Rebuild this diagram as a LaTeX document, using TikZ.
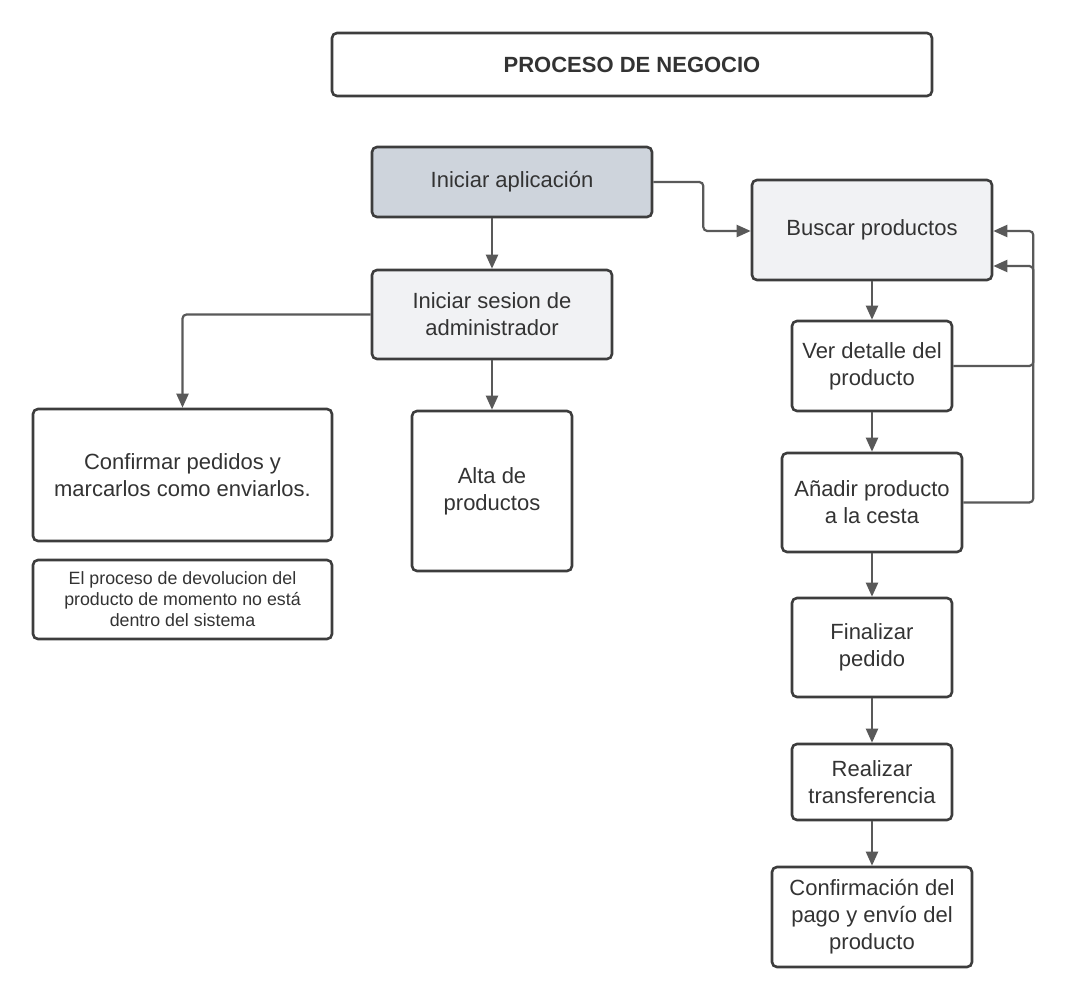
\documentclass[tikz,border=0pt]{standalone}
\usepackage{fontspec}
\setmainfont{Liberation Sans}
\usepackage{xcolor}
\usepackage{tikz}
\usetikzlibrary{calc, arrows.meta, positioning}

\definecolor{borde}{HTML}{3D3D3D}
\definecolor{linea}{HTML}{595959}
\definecolor{grisapp}{HTML}{CED4DC}
\definecolor{grisclaro}{HTML}{F1F2F4}
\definecolor{texto}{HTML}{333333}

\begin{document}
\begin{tikzpicture}[x=1pt, y=-1pt,
    caja/.style={draw=borde, line width=2.6pt, rounded corners=5pt, fill=white,
        align=center, text=texto, inner sep=2pt,
        font=\fontsize{22}{27}\selectfont},
    nota/.style={caja, font=\fontsize{17.8}{21}\selectfont},
    flecha/.style={draw=linea, line width=2.2pt, rounded corners=4pt,
        -{Triangle[length=14pt, width=12pt]}}]
    \useasboundingbox (0,0) rectangle (1074,1007);

    % 1. Titulo
    \node[caja, minimum width=600pt, minimum height=63pt,
        font=\fontsize{22}{26}\selectfont\bfseries] (titulo) at (632,64.5) {PROCESO DE NEGOCIO};

    % 2. Rama del administrador
    \node[caja, fill=grisapp, minimum width=280pt, minimum height=70pt] (app) at (512,182) {Iniciar aplicación};
    \node[caja, fill=grisclaro, minimum width=240pt, minimum height=89pt] (sesion) at (492,314.5) {Iniciar sesion de\\administrador};
    \node[caja, minimum width=299pt, minimum height=132pt] (confirmar) at (182.5,475) {Confirmar pedidos y\\marcarlos como enviarlos.};
    \node[nota, minimum width=299pt, minimum height=79pt] (devolucion) at (182.5,599.5) {El proceso de devolucion del\\producto de momento no está\\dentro del sistema};
    \node[caja, minimum width=160pt, minimum height=160pt] (alta) at (492,491) {Alta de\\productos};

    % 3. Rama del cliente
    \node[caja, fill=grisclaro, minimum width=240pt, minimum height=100pt] (buscar) at (872,230) {Buscar productos};
    \node[caja, minimum width=160pt, minimum height=90pt] (detalle) at (872,366) {Ver detalle del\\producto};
    \node[caja, minimum width=180pt, minimum height=99pt] (cesta) at (872,502.5) {Añadir producto\\a la cesta};
    \node[caja, minimum width=160pt, minimum height=99pt] (finalizar) at (872,647.5) {Finalizar\\pedido};
    \node[caja, minimum width=160pt, minimum height=76pt] (transf) at (872,782) {Realizar\\transferencia};
    \node[caja, minimum width=200pt, minimum height=100pt] (pago) at (872,917) {Confirmación del\\pago y envío del\\producto};

    % 4. Conexiones
    \draw[flecha] (sesion.north |- app.south) -- (sesion.north);
    \draw[flecha] (app.east) -- ++(50,0) |- ([yshift=-1pt]buscar.west);
    \draw[flecha] (sesion.west) -| (confirmar.north);
    \draw[flecha] (sesion.south) -- (alta.north);

    \draw[flecha] (buscar.south) -- (detalle.north);
    \draw[flecha] (detalle.south) -- (cesta.north);
    \draw[flecha] (cesta.south) -- (finalizar.north);
    \draw[flecha] (finalizar.south) -- (transf.north);
    \draw[flecha] (transf.south) -- (pago.north);

    % 5. Vueltas a buscar productos
    \draw[flecha] (detalle.east) -- ++(80,0) |- ([yshift=-36pt]buscar.east);
    \draw[flecha] (cesta.east) -- ++(70,0) |- ([yshift=-1pt]buscar.east);
\end{tikzpicture}
\end{document}
